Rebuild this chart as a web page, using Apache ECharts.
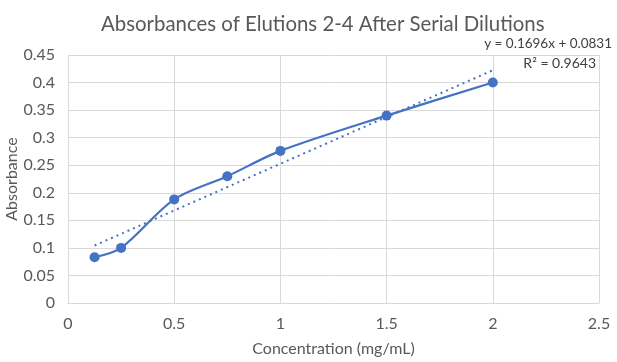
<!DOCTYPE html>
<html><head><meta charset="utf-8">
<script src="https://cdn.jsdelivr.net/npm/echarts@6/dist/echarts.min.js"></script>
<style>html,body{margin:0;padding:0;background:#fff}#c{width:617px;height:362px}</style>
</head><body><div id="c"></div>
<script>
const concentrations = [0.125, 0.25, 0.5, 0.75, 1.0, 1.5, 2.0];
const absorbances = [0.083, 0.1, 0.188, 0.23, 0.276, 0.34, 0.4];
const trendSlope = 0.1696;
const trendIntercept = 0.0831;
const trendRange = [0.125, 2.0];
const equationText = 'y = 0.1696x + 0.0831';
const r2Text = 'R² = 0.9643';

const FONT = 'Lato, "Open Sans", sans-serif';
const chart = echarts.init(document.getElementById('c'));
chart.setOption({
  animation: false,
  backgroundColor: '#fff',
  title: {
    text: 'Absorbances of Elutions 2-4 After Serial Dilutions',
    left: 96, top: 9,
    textStyle: { fontFamily: FONT, fontSize: 20.4, fontWeight: 'normal', color: '#595959' }
  },
  grid: { left: 68, right: 18, top: 55, bottom: 59, containLabel: false, outerBoundsMode: 'none' },
  xAxis: {
    type: 'value', min: 0, max: 2.5, interval: 0.5,
    name: 'Concentration (mg/mL)', nameLocation: 'middle', nameGap: 38, nameMoveOverlap: false,
    nameTextStyle: { fontFamily: FONT, fontSize: 16, color: '#595959' },
    axisLine: { show: true, lineStyle: { color: '#d9d9d9' } },
    axisTick: { show: false },
    axisLabel: { fontFamily: FONT, fontSize: 16, color: '#595959', margin: 13 },
    splitLine: { show: true, lineStyle: { color: '#d9d9d9', width: 1 } }
  },
  yAxis: {
    type: 'value', min: 0, max: 0.45, interval: 0.05,
    name: 'Absorbance', nameLocation: 'middle', nameGap: 48, nameMoveOverlap: false,
    nameTextStyle: { fontFamily: FONT, fontSize: 16, color: '#595959' },
    axisLine: { show: false },
    axisTick: { show: false },
    axisLabel: { fontFamily: FONT, fontSize: 16, color: '#595959', margin: 13 },
    splitLine: { show: true, lineStyle: { color: '#d9d9d9', width: 1 } }
  },
  series: [
    {
      type: 'line', smooth: 0.3,
      data: concentrations.map((x, i) => [x, absorbances[i]]),
      symbol: 'circle', symbolSize: 10,
      lineStyle: { color: '#4472C4', width: 2.2 },
      itemStyle: { color: '#4472C4' },
      z: 3
    },
    {
      type: 'line',
      data: trendRange.map(x => [x, trendSlope * x + trendIntercept]),
      symbol: 'none',
      lineStyle: { color: '#4472C4', width: 2, type: [2, 4] },
      z: 2
    }
  ],
  graphic: [
    { type: 'text', right: 5, top: 37, style: { text: equationText, font: '13.5px ' + FONT, fill: '#404040' } },
    { type: 'text', right: 21, top: 56, style: { text: r2Text, font: '14px ' + FONT, fill: '#404040' } }
  ]
});
</script></body></html>
